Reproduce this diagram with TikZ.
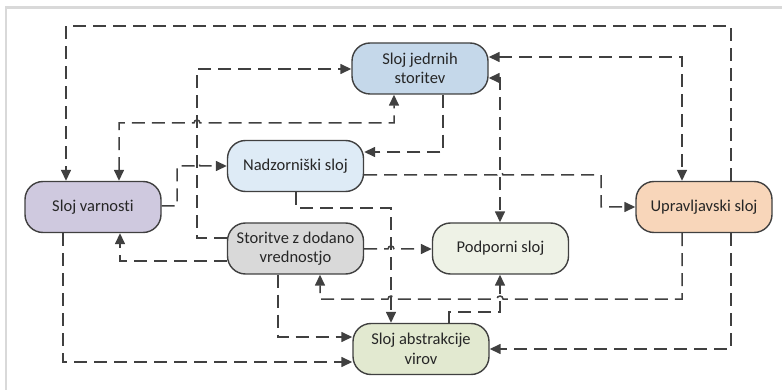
\documentclass[tikz,border=0pt]{standalone}
\usepackage{fontspec}
\setmainfont{Carlito}[Ligatures=NoCommon]
\usetikzlibrary{arrows.meta}

\definecolor{linegray}{HTML}{404040}
\definecolor{textgray}{HTML}{262626}
\definecolor{framegray}{HTML}{D9D9D9}
\definecolor{cJed}{HTML}{C5D8EA}
\definecolor{cNad}{HTML}{DEEBF6}
\definecolor{cVar}{HTML}{CFC9DF}
\definecolor{cSto}{HTML}{D9D9D9}
\definecolor{cPod}{HTML}{EEF2E6}
\definecolor{cAbs}{HTML}{E2E9D0}
\definecolor{cUpr}{HTML}{F8D6BA}

\tikzset{
  layer/.style={draw=linegray, line width=1.4pt, rounded corners=18pt,
    minimum width=136pt, minimum height=51pt, align=center,
    font=\fontsize{16.5}{19.5}\selectfont, text=textgray, inner sep=2pt},
  link/.style={draw=linegray, line width=1.5pt, dash pattern=on 13pt off 7pt,
    -{Triangle[length=11pt,width=10pt]}},
  duallink/.style={link, {Triangle[length=11pt,width=10pt]}-{Triangle[length=11pt,width=10pt]}},
  frameline/.style={draw=framegray, line width=2.5pt}
}

\begin{document}
\begin{tikzpicture}[x=1pt,y=-1pt]
  \useasboundingbox (0,0) rectangle (782,390);
  % outer frame edges
  \draw[frameline] (6.2,390) -- (6.2,7.3) -- (782,7.3);

  % layers
  \node[layer, fill=cJed] (jed) at (420,68.5) {Sloj jedrnih\\storitev};
  \node[layer, fill=cNad] (nad) at (295.5,166) {Nadzorniški sloj};
  \node[layer, fill=cVar] (var) at (93,207) {Sloj varnosti};
  \node[layer, fill=cSto] (sto) at (295.5,248.5) {Storitve z dodano\\vrednostjo};
  \node[layer, fill=cPod] (pod) at (500.5,248.5) {Podporni sloj};
  \node[layer, fill=cAbs] (abs) at (421,349) {Sloj abstrakcije\\virov};
  \node[layer, fill=cUpr] (upr) at (704,207) {Upravljavski sloj};

  % connectors
  \draw[link] (731,0 |- upr.north) -- (731,26) -- (66,26) -- (66,0 |- var.north);
  \draw[duallink] (jed.east |- 0,57) -- (682,57) -- (682,0 |- upr.north);
  \draw[duallink] (jed.east |- 0,78) -- (500,78) -- (500,0 |- pod.north);
  \draw[link] (nad.east |- 0,175) -- (497,175) arc[start angle=180,end angle=0,radius=3pt]
    -- (601,175) -- (601,207) -- (upr.west |- 0,207);
  \draw[link] (443,0 |- jed.south) -- (443,152) -- (nad.east |- 0,152);
  \draw[duallink] (119,0 |- var.north) -- (119,123) -- (194,123)
    arc[start angle=180,end angle=0,radius=3pt] -- (394,123) -- (394,0 |- jed.south);
  \draw[link] (sto.west |- 0,238) -- (197,238) -- (197,69) -- (jed.west |- 0,69);
  \draw[link] (var.east |- 0,206) -- (177,206) -- (177,166) -- (194,166)
    arc[start angle=180,end angle=0,radius=3pt] -- (nad.west |- 0,166);
  \draw[link] (sto.west |- 0,261) -- (120,261) -- (120,0 |- var.south);
  \draw[link] (296,0 |- nad.south) -- (296,208) -- (391,208) -- (391,0 |- abs.north);
  \draw[link] (sto.east |- 0,249) -- (388,249) arc[start angle=180,end angle=0,radius=3pt]
    -- (pod.west |- 0,249);
  \draw[link] (682,0 |- upr.south) -- (682,299) -- (503,299)
    arc[start angle=0,end angle=180,radius=3pt] -- (394,299)
    arc[start angle=0,end angle=180,radius=3pt] -- (320,299) -- (320,0 |- sto.south);
  \draw[link] (278,0 |- sto.south) -- (278,337) -- (abs.west |- 0,337);
  \draw[link] (63,0 |- var.south) -- (63,362) -- (abs.west |- 0,362);
  \draw[link] (449,0 |- abs.north) -- (449,312) -- (500,312) -- (500,0 |- pod.south);
  \draw[link] (731,0 |- upr.south) -- (731,349) -- (abs.east |- 0,349);
\end{tikzpicture}
\end{document}
